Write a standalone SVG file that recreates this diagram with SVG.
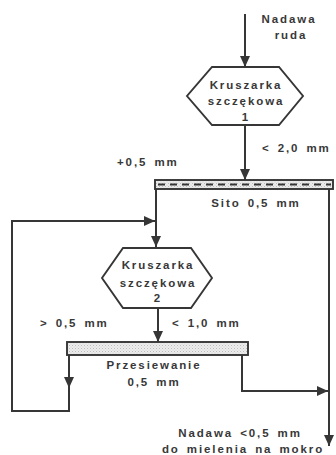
<svg xmlns="http://www.w3.org/2000/svg" width="336" height="455" viewBox="0 0 336 455">
<style>
text{font-family:"Liberation Sans",Arial,sans-serif;font-weight:bold;font-size:11.5px;letter-spacing:1.9px;fill:#383838}
.m{text-anchor:middle}
.hex{fill:#fff;stroke:#363636;stroke-width:1.9}
.sieve{fill:url(#dots);stroke:#363636;stroke-width:1.9}
.c{fill:none;stroke:#363636;stroke-width:2}
.w{word-spacing:2px}
</style>
<defs>
<pattern id="dots" width="3" height="3" patternUnits="userSpaceOnUse">
<rect width="3" height="3" fill="#ececec"/>
<rect width="1" height="1" fill="#bdbdbd"/>
<rect x="1.5" y="1.5" width="1" height="1" fill="#d0d0d0"/>
</pattern>
<marker id="ah" viewBox="0 0 11 10" refX="11" refY="5" markerWidth="11" markerHeight="10" markerUnits="userSpaceOnUse" orient="auto">
<path d="M0,0 L11,5 L0,10 z" fill="#363636"/>
</marker>
</defs>
<g id="connectors">
<path class="c" d="M245,14 L245,67" marker-end="url(#ah)"/>
<path class="c" d="M245,125 L245,180" marker-end="url(#ah)"/>
<path class="c" d="M156,189 L156,247" marker-end="url(#ah)"/>
<path class="c" d="M158,308 L158,342" marker-end="url(#ah)"/>
<path class="c" d="M69,355 L69,388" marker-end="url(#ah)"/>
<path class="c" d="M69,386 L69,411 L12,411 L12,221 L155,221" marker-end="url(#ah)"/>
<path class="c" d="M242,355 L242,391 L328,391" marker-end="url(#ah)"/>
<path class="c" d="M329,189 L329,446" marker-end="url(#ah)"/>
</g>
<g id="feed">
<text class="m" x="289" y="23">Nadawa</text>
<text class="m" x="291" y="39">ruda</text>
</g>
<g id="crusher1">
<polygon class="hex" points="212,67 279,67 303,96 279,125 212,125 187,96"/>
<text class="m" x="246" y="89">Kruszarka</text>
<text class="m" x="246" y="105">szczękowa</text>
<text class="m" x="246" y="121">1</text>
</g>
<g id="sieve1">
<rect class="sieve" x="155" y="180" width="178" height="9"/>
<line x1="158" y1="184.5" x2="331" y2="184.5" stroke="#363636" stroke-width="1.8" stroke-dasharray="7,5"/>
<text class="m w" x="256" y="207">Sito 0,5 mm</text>
</g>
<g id="crusher2">
<polygon class="hex" points="123,248 191,248 212,278 191,308 123,308 102,278"/>
<text class="m" x="158" y="269">Kruszarka</text>
<text class="m" x="158" y="287">szczękowa</text>
<text class="m" x="158" y="302">2</text>
</g>
<g id="sieve2">
<rect class="sieve" x="67" y="342" width="181" height="13"/>
<text class="m" x="154" y="369">Przesiewanie</text>
<text class="m w" x="154" y="386">0,5 mm</text>
</g>
<g id="labels">
<text class="w" x="262" y="152">&lt; 2,0 mm</text>
<text class="w" x="117" y="166">+0,5 mm</text>
<text class="w" x="40" y="327">&gt; 0,5 mm</text>
<text class="w" x="172" y="327">&lt; 1,0 mm</text>
</g>
<g id="product">
<text class="m w" x="240" y="437">Nadawa &lt;0,5 mm</text>
<text class="m w" x="243" y="453">do mielenia na mokro</text>
</g>
</svg>
